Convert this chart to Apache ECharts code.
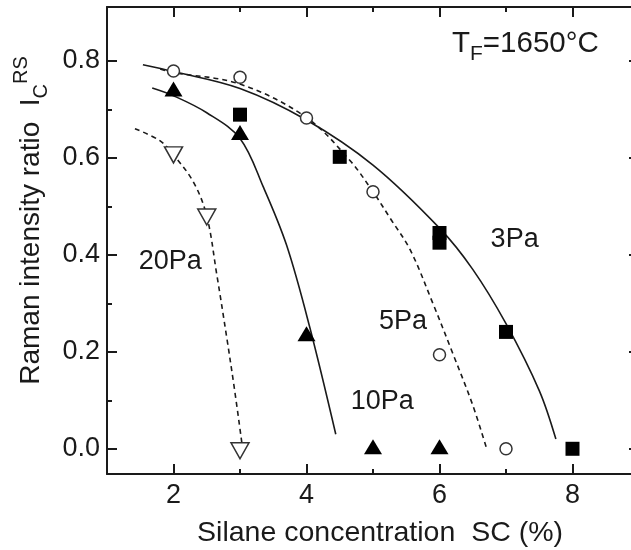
<!DOCTYPE html>
<html><head><meta charset="utf-8">
<script src="https://cdn.jsdelivr.net/npm/echarts@6/dist/echarts.min.js"></script>
<style>html,body{margin:0;padding:0;background:#fff}#c{width:631px;height:550px}</style>
</head><body><div id="c"></div>
<script>
// tick positions
const xLabelTicks = [2, 4, 6, 8];
const xMinorTicks = [3, 5, 7];
const yLabelTicks = [0, 0.2, 0.4, 0.6, 0.8];
const yMinorTicks = [0.1, 0.3, 0.5, 0.7];

// measured points [SC %, ratio]
const pts3Pa  = [[3, 0.689], [4.5, 0.602], [6, 0.445], [6, 0.425], [7, 0.241], [8, 0.0]];
const pts5Pa  = [[2, 0.779], [3, 0.766], [4, 0.682], [5, 0.53], [6, 0.194], [7, 0.0]];
const pts10Pa = [[2, 0.742], [3, 0.652], [4, 0.237], [5, 0.004], [6, 0.004]];
const pts20Pa = [[2, 0.606], [2.5, 0.478], [3, -0.004]];

// guide curves
const curve3Pa  = [[1.54, 0.792], [2, 0.778], [3, 0.743], [4, 0.678], [5, 0.585], [6, 0.455], [6.5, 0.37], [7, 0.258], [7.5, 0.12], [7.75, 0.02]];
const curve5Pa  = [[1.8, 0.783], [2, 0.776], [3, 0.752], [4, 0.683], [4.65, 0.595], [5, 0.53], [5.26, 0.475], [5.56, 0.41], [5.9, 0.3], [6.19, 0.2], [6.5, 0.09], [6.71, 0.0]];
const curve10Pa = [[1.68, 0.744], [2, 0.728], [2.5, 0.693], [3, 0.64], [3.35, 0.54], [3.7, 0.42], [4.05, 0.25], [4.44, 0.03]];
const curve20Pa = [[1.42, 0.66], [1.8, 0.635], [2, 0.606], [2.3, 0.55], [2.5, 0.48], [2.65, 0.36], [2.8, 0.23], [2.92, 0.12], [3.03, 0.01]];

// curve labels [x, y, text]
const curveLabels = [[7.13, 0.431, '3Pa'], [5.45, 0.262, '5Pa'], [5.14, 0.097, '10Pa'], [1.95, 0.386, '20Pa']];

const FONT = '"Liberation Sans", Arial, Helvetica, sans-serif';
const INK = '#1a1a1a';
const X_MIN = 1, X_MAX = 9, Y_MIN = -0.052, Y_MAX = 0.911;

function xAx(pos, ticks, len, showLine, labels) {
  return {
    type: 'value', position: pos, min: X_MIN, max: X_MAX, interval: 1,
    axisLine: { show: showLine, onZero: false, lineStyle: { color: INK, width: 2 } },
    axisTick: { show: true, inside: true, length: len, customValues: ticks, lineStyle: { color: INK, width: 2 } },
    axisLabel: labels ? { show: true, customValues: ticks, fontSize: 27, fontFamily: FONT, color: INK, margin: 8 } : { show: false },
    splitLine: { show: false }
  };
}
function yAx(pos, ticks, len, showLine, labels) {
  return {
    type: 'value', position: pos, min: Y_MIN, max: Y_MAX, interval: 0.1,
    axisLine: { show: showLine, onZero: false, lineStyle: { color: INK, width: 2 } },
    axisTick: { show: true, inside: true, length: len, customValues: ticks, lineStyle: { color: INK, width: 2 } },
    axisLabel: labels ? { show: true, customValues: ticks, fontSize: 27, fontFamily: FONT, color: INK, margin: 7,
      formatter: v => v.toFixed(1) } : { show: false },
    splitLine: { show: false }
  };
}

const xMain = xAx('bottom', xLabelTicks, 10, true, true);
xMain.name = 'Silane concentration  SC (%)';
xMain.nameLocation = 'middle';
xMain.nameGap = 45;
xMain.nameTextStyle = { fontSize: 28.5, fontFamily: FONT, color: INK, padding: [0, 0, 0, 14] };

const yMain = yAx('left', yLabelTicks, 10, true, true);
yMain.name = '{t|Raman intensity ratio  I}{sub|C}{sup|RS}';
yMain.nameLocation = 'middle';
yMain.nameGap = 53;
yMain.nameRotate = 90;
yMain.nameTextStyle = {
  fontFamily: FONT, color: INK, padding: [0, 0, 0, 40],
  rich: {
    t: { fontSize: 28, fontFamily: FONT, color: INK, lineHeight: 40, verticalAlign: 'middle' },
    sub: { fontSize: 20, fontFamily: FONT, color: INK, lineHeight: 20, verticalAlign: 'bottom' },
    sup: { fontSize: 20, fontFamily: FONT, color: INK, lineHeight: 20, verticalAlign: 'top' }
  }
};

function lineSeries(data, dashed) {
  return {
    type: 'line', data: data, smooth: 0.35, symbol: 'none', silent: true,
    lineStyle: { color: INK, width: 1.6, type: dashed ? [5, 4] : 'solid' },
    z: 2
  };
}

const option = {
  animation: false,
  backgroundColor: '#fff',
  grid: { left: 107, right: -8, top: 7, bottom: 76, containLabel: false, outerBoundsMode: 'none' },
  xAxis: [
    xMain,
    xAx('bottom', xMinorTicks, 5, false, false),
    xAx('top', xLabelTicks, 10, true, false),
    xAx('top', xMinorTicks, 5, false, false)
  ],
  yAxis: [
    yMain,
    yAx('left', yMinorTicks, 5, false, false),
    yAx('right', yLabelTicks, 10, true, false),
    yAx('right', yMinorTicks, 5, false, false)
  ],
  series: [
    lineSeries(curve3Pa, false),
    lineSeries(curve5Pa, true),
    lineSeries(curve10Pa, false),
    lineSeries(curve20Pa, true),
    { type: 'scatter', data: pts3Pa, symbol: 'rect', symbolSize: 14, itemStyle: { color: '#000', opacity: 1 }, z: 5 },
    { type: 'scatter', data: pts5Pa, symbol: 'circle', symbolSize: 12,
      itemStyle: { color: '#fff', borderColor: '#333', borderWidth: 1.5, opacity: 1 }, z: 5 },
    { type: 'scatter', data: pts10Pa, symbol: 'triangle', symbolSize: [18, 15], itemStyle: { color: '#000', opacity: 1 }, z: 5 },
    { type: 'scatter', data: pts20Pa, symbol: 'triangle', symbolRotate: 180, symbolSize: [18, 16],
      itemStyle: { color: '#fff', borderColor: '#333', borderWidth: 1.5, opacity: 1 }, z: 5 },
    { type: 'scatter', data: curveLabels, symbolSize: 0, silent: true, z: 6, itemStyle: { opacity: 1 },
      label: { show: true, position: 'inside', formatter: p => p.value[2], fontSize: 27, fontFamily: FONT, color: INK } }
  ],
  graphic: [
    { type: 'text', x: 452, y: 44, z: 10,
      style: {
        text: '{a|T}{b|F}{a|=1650°C}', verticalAlign: 'middle', align: 'left',
        rich: {
          a: { fontSize: 29.5, fontFamily: FONT, fill: INK, lineHeight: 42, verticalAlign: 'middle' },
          b: { fontSize: 21, fontFamily: FONT, fill: INK, lineHeight: 21, verticalAlign: 'bottom' }
        }
      } }
  ]
};

const chart = echarts.init(document.getElementById('c'), null, { renderer: 'canvas' });
chart.setOption(option);
</script>
</body></html>
